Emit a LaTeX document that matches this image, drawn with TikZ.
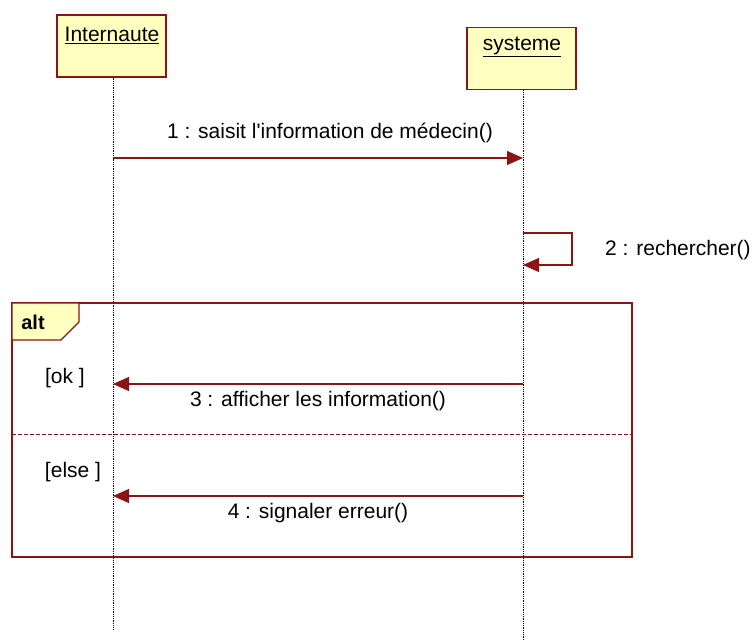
\documentclass[tikz,border=0pt]{standalone}
\usepackage{fontspec}
\setmainfont{Liberation Sans}
\usetikzlibrary{arrows.meta}
\definecolor{umlred}{RGB}{140,20,20}
\definecolor{umlfill}{RGB}{255,255,192}
\tikzset{
  lifebox/.style={draw=umlred, fill=umlfill, line width=1.4pt, minimum width=109pt, minimum height=62pt, inner sep=0pt},
  lifeline/.style={black, densely dotted, line width=0.8pt},
  msg/.style={umlred, line width=1.2pt, -{Triangle[length=16pt,width=14pt]}},
  lbl/.style={font=\fontsize{21}{24}\selectfont, inner sep=1pt},
  frame/.style={draw=umlred, line width=1.2pt},
}
\begin{document}
\begin{tikzpicture}[x=1pt, y=1pt, yscale=-1]
  \useasboundingbox (0,0) rectangle (754,644);

  % participants
  \node[lifebox] (int) at (111.5,46) {};
  \node[lbl] (intname) at (112,35) {\underline{Internaute}};
  \node[lifebox] (sys) at (521.5,58.5) {};
  \node[lbl] (sysname) at (522,47) {\underline{systeme}};

  % lifeline ends
  \coordinate (intend) at (113,630);
  \coordinate (sysend) at (523,640);
  \draw[lifeline] (int.south -| intend) -- (intend);
  \draw[lifeline] (sys.south -| sysend) -- (sysend);

  % message 1
  \coordinate (m1a) at (113,158);
  \coordinate (m1b) at (523,158);
  \draw[msg] (m1a) -- (m1b);
  \node[lbl] (l1) at (330,133) {1 : saisit l\textquotesingle information de médecin()};

  % message 2 (self call)
  \coordinate (m2a) at (523,233);
  \coordinate (m2b) at (523,265);
  \coordinate (m2r) at (572,249);
  \draw[msg] (m2a) -- (m2a -| m2r) -- (m2b -| m2r) -- (m2b);
  \node[lbl, anchor=west] (l2) at (604,250) {2 : rechercher()};

  % alt combined fragment
  \draw[frame] (12,303) rectangle (632,557);
  \draw[frame, fill=umlfill] (12,303) -- (79,303) -- (79,322) -- (61,340) -- (12,340) -- cycle;
  \node[lbl, font=\fontsize{20}{24}\selectfont\bfseries] (alt) at (33,322) {alt};
  \draw[umlred, line width=1pt, dash pattern=on 4pt off 2pt] (12,434) -- (632,434);

  % first operand
  \node[lbl] (g1) at (65,378) {[ok ]};
  \coordinate (m3a) at (523,384);
  \coordinate (m3b) at (113,384);
  \draw[msg] (m3a) -- (m3b);
  \node[lbl] (l3) at (318,401) {3 : afficher les information()};

  % second operand
  \node[lbl] (g2) at (73,472) {[else ]};
  \coordinate (m4a) at (523,496);
  \coordinate (m4b) at (113,496);
  \draw[msg] (m4a) -- (m4b);
  \node[lbl] (l4) at (318,513) {4 : signaler erreur()};
\end{tikzpicture}
\end{document}
